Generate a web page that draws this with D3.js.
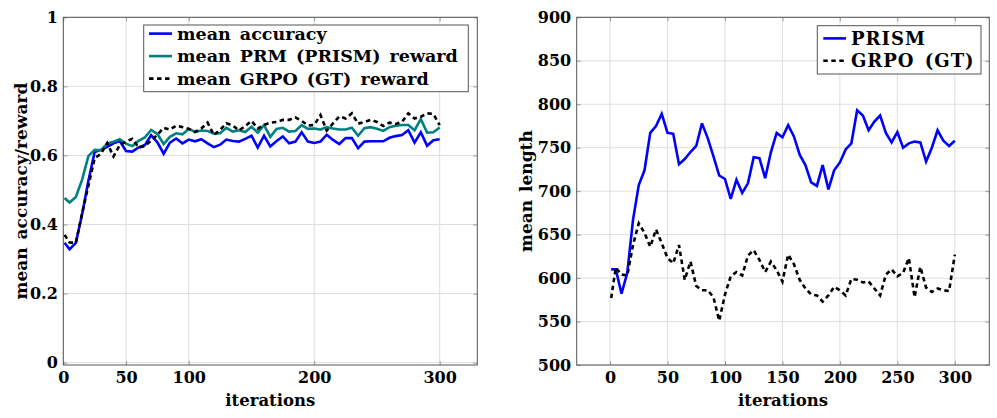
<!DOCTYPE html>
<html>
<head>
<meta charset="utf-8">
<script src="https://cdn.jsdelivr.net/npm/d3@7"></script>
<style>
  html, body { margin: 0; padding: 0; background: #fff; }
  svg { display: block; }
  text { font-family: "DejaVu Serif", serif; font-weight: bold; fill: #000; }
</style>
</head>
<body>
<svg id="chart" width="997" height="418"></svg>
<script>
// ---------- DATA ----------
const iterations = [1,5,10,15,20,25,30,35,40,45,50,55,60,65,70,75,80,85,90,95,100,
  105,110,115,120,125,130,135,140,145,150,155,160,165,170,175,180,185,190,195,200,
  205,210,215,220,225,230,235,240,245,250,255,260,265,270,275,280,285,290,295,300];

const meanAccuracy = [0.347,0.328,0.347,0.430,0.527,0.610,0.616,0.625,0.635,0.642,0.613,
  0.611,0.623,0.630,0.659,0.638,0.605,0.637,0.649,0.635,0.646,
  0.641,0.647,0.635,0.624,0.631,0.646,0.642,0.640,0.648,0.657,
  0.623,0.657,0.626,0.642,0.655,0.635,0.640,0.667,0.640,0.636,
  0.640,0.660,0.645,0.633,0.650,0.650,0.621,0.640,0.641,0.641,
  0.641,0.651,0.656,0.659,0.673,0.637,0.667,0.628,0.644,0.647];

const meanPrmReward = [0.477,0.464,0.480,0.530,0.598,0.616,0.615,0.634,0.640,0.647,0.634,
  0.627,0.642,0.652,0.674,0.662,0.633,0.654,0.664,0.661,0.677,
  0.668,0.672,0.671,0.663,0.664,0.680,0.669,0.673,0.668,0.683,
  0.666,0.688,0.654,0.677,0.680,0.669,0.671,0.688,0.677,0.678,
  0.675,0.682,0.678,0.675,0.675,0.680,0.657,0.679,0.682,0.677,
  0.671,0.682,0.686,0.688,0.688,0.673,0.705,0.666,0.667,0.681];

const meanGrpoReward = [0.370,0.348,0.347,0.432,0.512,0.592,0.605,0.636,0.597,0.630,0.640,
  0.648,0.623,0.627,0.643,0.660,0.680,0.675,0.686,0.682,0.677,
  0.668,0.678,0.695,0.659,0.674,0.693,0.687,0.672,0.685,0.700,
  0.678,0.688,0.695,0.697,0.703,0.703,0.710,0.700,0.687,0.688,
  0.717,0.672,0.693,0.713,0.707,0.722,0.692,0.697,0.703,0.697,
  0.685,0.695,0.691,0.697,0.722,0.707,0.712,0.722,0.720,0.688];

const lengthPrism = [610,610,582,606,667,707,724,767,775,789,767,
  766,731,737,745,752,778,761,740,718,714,
  691,713,698,709,739,738,715,745,767,762,
  776,763,742,730,710,706,730,702,724,733,
  748,755,793,787,770,780,787,767,756,768,
  750,755,757,756,734,750,770,758,752,758];

const lengthGrpo = [577,612,604,603,638,663,652,636,656,640,623,
  617,638,598,619,591,586,586,578,551,581,
  602,607,603,626,632,621,607,619,609,596,
  627,616,598,588,581,580,573,580,590,586,
  580,599,598,595,596,588,580,604,610,602,
  606,623,578,613,589,584,588,586,585,627];

const leftXTicks = [0,50,100,200,300];
const leftYTicks = [0,0.2,0.4,0.6,0.8,1];
const leftYTickLabels = ["0","0.2","0.4","0.6","0.8","1"];
const rightXTicks = [0,50,100,150,200,250,300];
const rightYTicks = [500,550,600,650,700,750,800,850,900];

const leftSeriesNames = ["mean accuracy","mean PRM (PRISM) reward","mean GRPO (GT) reward"];
const rightSeriesNames = ["PRISM","GRPO (GT)"];

// ---------- STYLE ----------
const BLUE = "#0000ff", TEAL = "#008080", BLACK = "#000000";
const GRID = "#dedede", FRAME = "#555555", TICK = "#9a9a9a";
const LW = 2.6;

const svg = d3.select("#chart");

function panel(cfg) {
  const g = svg.append("g");
  const x = d3.scaleLinear().domain(cfg.xDomain).range(cfg.xRange);
  const y = d3.scaleLinear().domain(cfg.yDomain).range(cfg.yRange);
  const [x0, x1] = cfg.xRange, [y0, y1] = cfg.yRange; // y0 bottom, y1 top

  // grid
  g.append("g").selectAll("line").data(cfg.xTicks).join("line")
    .attr("x1", d => x(d)).attr("x2", d => x(d)).attr("y1", y0).attr("y2", y1)
    .attr("stroke", GRID).attr("stroke-width", 1);
  g.append("g").selectAll("line").data(cfg.yTicks).join("line")
    .attr("x1", x0).attr("x2", x1).attr("y1", d => y(d)).attr("y2", d => y(d))
    .attr("stroke", GRID).attr("stroke-width", 1);

  // lines
  const clip = "clip" + cfg.id;
  svg.append("clipPath").attr("id", clip).append("rect")
    .attr("x", x0).attr("y", y1).attr("width", x1 - x0).attr("height", y0 - y1);
  const lg = g.append("g").attr("clip-path", `url(#${clip})`);
  cfg.series.forEach(s => {
    const line = d3.line().x((d, i) => x(iterations[i])).y(d => y(d));
    lg.append("path").datum(s.values)
      .attr("d", line).attr("fill", "none")
      .attr("stroke", s.color).attr("stroke-width", LW)
      .attr("stroke-linejoin", "miter").attr("stroke-miterlimit", 3)
      .attr("stroke-dasharray", s.dashed ? "4.5,3.5" : null);
  });

  // axes ticks (inside, on all four sides)
  const axB = d3.axisBottom(x).tickValues(cfg.xTicks).tickSizeInner(-4).tickSizeOuter(0).tickPadding(7)
    .tickFormat(d3.format("d"));
  const axT = d3.axisTop(x).tickValues(cfg.xTicks).tickSizeInner(-4).tickSizeOuter(0).tickFormat("");
  const axL = d3.axisLeft(y).tickValues(cfg.yTicks).tickSizeInner(-4).tickSizeOuter(0).tickPadding(5.5)
    .tickFormat((d, i) => cfg.yTickLabels[i]);
  const axR = d3.axisRight(y).tickValues(cfg.yTicks).tickSizeInner(-4).tickSizeOuter(0).tickFormat("");

  const styleAxis = sel => {
    sel.select(".domain").remove();
    sel.selectAll(".tick line").attr("stroke", TICK);
    sel.selectAll(".tick text").attr("font-family", "DejaVu Serif, serif")
      .attr("font-weight", "bold").attr("font-size", 16).attr("fill", "#000");
  };
  g.append("g").attr("transform", `translate(0,${y0})`).call(axB).call(styleAxis);
  g.append("g").attr("transform", `translate(0,${y1})`).call(axT).call(styleAxis);
  g.append("g").attr("transform", `translate(${x0},0)`).call(axL).call(styleAxis);
  g.append("g").attr("transform", `translate(${x1},0)`).call(axR).call(styleAxis);

  // frame
  g.append("rect").attr("x", x0).attr("y", y1).attr("width", x1 - x0).attr("height", y0 - y1)
    .attr("fill", "none").attr("stroke", FRAME).attr("stroke-width", 1);

  // axis labels
  g.append("text").attr("x", (x0 + x1) / 2).attr("y", 406)
    .attr("text-anchor", "middle").attr("font-size", 16.5).text("iterations");
  g.append("text").attr("transform", `translate(${cfg.yLabelX},${(y0 + y1) / 2}) rotate(-90)`)
    .attr("text-anchor", "middle").attr("font-size", 17).attr("word-spacing", 2).text(cfg.yLabel);

  // legend
  const L = cfg.legend;
  const lgd = g.append("g");
  lgd.append("rect").attr("x", L.x).attr("y", L.y).attr("width", L.w).attr("height", L.h)
    .attr("fill", "#fff").attr("stroke", FRAME).attr("stroke-width", 1);
  cfg.series.forEach((s, i) => {
    const cy = L.firstY + i * L.step;
    lgd.append("line").attr("x1", L.sx1).attr("x2", L.sx2).attr("y1", cy).attr("y2", cy)
      .attr("stroke", s.color).attr("stroke-width", LW)
      .attr("stroke-dasharray", s.dashed ? "4.5,3.5" : null);
    lgd.append("text").attr("x", L.tx).attr("y", cy).attr("dy", "0.36em")
      .attr("font-size", L.fs).attr("word-spacing", L.ws).attr("letter-spacing", L.ls)
      .text(s.name);
  });
}

panel({
  id: "L",
  xDomain: [0, 330], xRange: [63.3, 477.3],
  yDomain: [-0.0068, 1], yRange: [365, 17.3],
  xTicks: leftXTicks, yTicks: leftYTicks, yTickLabels: leftYTickLabels,
  yLabel: "mean accuracy/reward", yLabelX: 26.5,
  series: [
    { name: leftSeriesNames[0], values: meanAccuracy, color: BLUE },
    { name: leftSeriesNames[1], values: meanPrmReward, color: TEAL },
    { name: leftSeriesNames[2], values: meanGrpoReward, color: BLACK, dashed: true }
  ],
  legend: { x: 143.7, y: 25, w: 324.6, h: 66.7, firstY: 33.6, step: 22.5,
            sx1: 149, sx2: 172, tx: 177, fs: 17.5, ws: 3, ls: 0 }
});

panel({
  id: "R",
  xDomain: [-29, 330], xRange: [576.7, 989.3],
  yDomain: [500, 900], yRange: [365, 17.3],
  xTicks: rightXTicks, yTicks: rightYTicks, yTickLabels: rightYTicks.map(String),
  yLabel: "mean length", yLabelX: 531.5,
  series: [
    { name: rightSeriesNames[0], values: lengthPrism, color: BLUE },
    { name: rightSeriesNames[1], values: lengthGrpo, color: BLACK, dashed: true }
  ],
  legend: { x: 817.3, y: 25.7, w: 163.7, h: 48.3, firstY: 38.4, step: 22.4,
            sx1: 823.3, sx2: 846, tx: 851, fs: 18, ws: 3, ls: 1 }
});
</script>
</body>
</html>
